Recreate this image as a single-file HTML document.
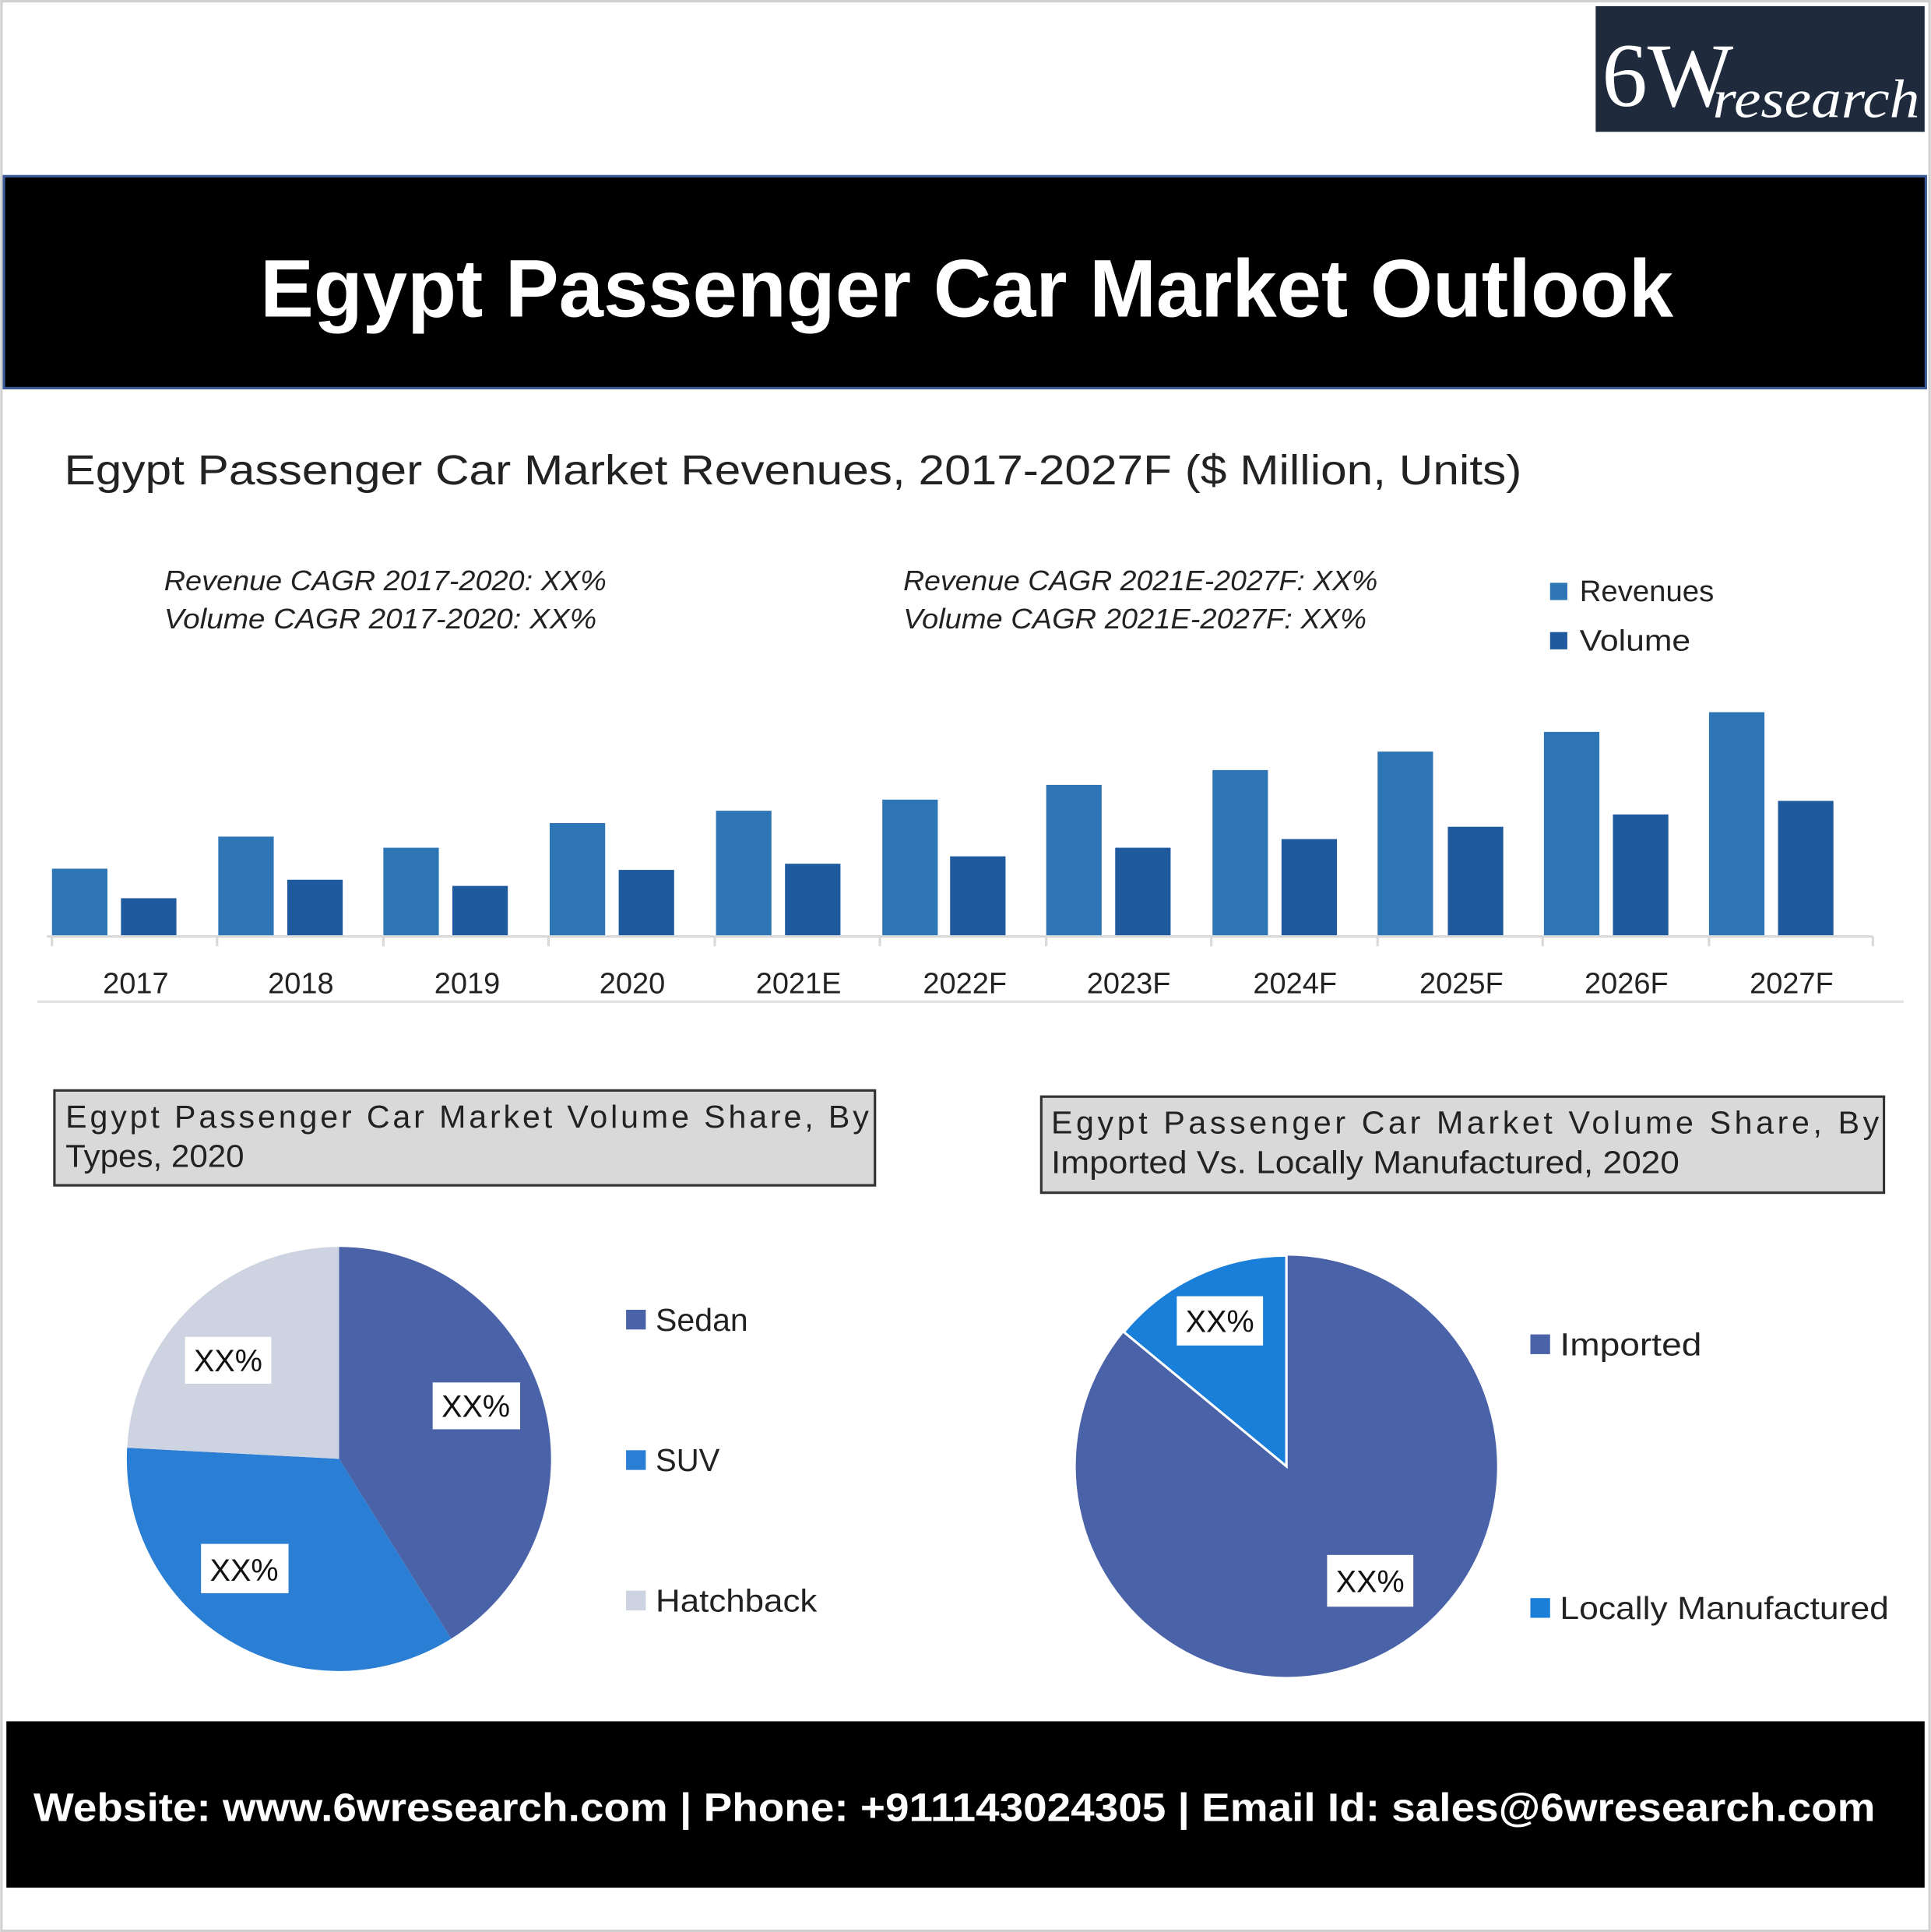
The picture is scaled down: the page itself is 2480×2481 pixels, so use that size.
<!DOCTYPE html>
<html><head><meta charset="utf-8"><style>
html,body{margin:0;padding:0;background:#fff;}
svg{display:block;}
text{font-family:"Liberation Sans",sans-serif;}
</style></head><body>
<svg width="2480" height="2481" viewBox="0 0 1567 1568" xmlns="http://www.w3.org/2000/svg">
<rect x="0" y="0" width="1567" height="1568" fill="#fff"/>
<rect x="1" y="1" width="1565" height="1566" fill="none" stroke="#d0d0d0" stroke-width="2"/>
<!-- logo -->
<rect x="1295" y="5" width="267" height="102" fill="#1f2b3d"/>
<text x="1300" y="86" style="font-family:'Liberation Serif',serif" font-size="74" fill="#fff">6W</text>
<text x="1390" y="95" style="font-family:'Liberation Serif',serif;font-style:italic" font-size="44" fill="#fff" textLength="168" lengthAdjust="spacingAndGlyphs">research</text>
<!-- title band -->
<rect x="3" y="143" width="1560" height="172" fill="#000" stroke="#3a5a9a" stroke-width="2"/>
<text x="211" y="257" font-size="66" font-weight="bold" fill="#fff" textLength="1147" lengthAdjust="spacingAndGlyphs">Egypt Passenger Car Market Outlook</text>
<!-- subtitle -->
<text x="52" y="393" font-size="34" fill="#222" textLength="1183" lengthAdjust="spacingAndGlyphs">Egypt Passenger Car Market Revenues, 2017-2027F ($ Million, Units)</text>
<g font-size="23" font-style="italic" fill="#222">
<text x="133" y="479" textLength="359" lengthAdjust="spacingAndGlyphs">Revenue CAGR 2017-2020: XX%</text>
<text x="133" y="510" textLength="351" lengthAdjust="spacingAndGlyphs">Volume CAGR 2017-2020: XX%</text>
<text x="733" y="479" textLength="385" lengthAdjust="spacingAndGlyphs">Revenue CAGR 2021E-2027F: XX%</text>
<text x="733" y="510" textLength="376" lengthAdjust="spacingAndGlyphs">Volume CAGR 2021E-2027F: XX%</text>
</g>
<rect x="1258" y="473" width="14" height="14" fill="#2e75b6"/>
<text x="1282" y="488" font-size="24" fill="#222" textLength="109" lengthAdjust="spacingAndGlyphs">Revenues</text>
<rect x="1258" y="513" width="14" height="14" fill="#1f5a9e"/>
<text x="1282" y="528" font-size="24" fill="#222" textLength="90" lengthAdjust="spacingAndGlyphs">Volume</text>
<!-- bars -->
<g>
<rect x="42" y="705" width="45" height="55" fill="#2e75b6"/><rect x="98" y="729" width="45" height="31" fill="#1f5a9e"/>
<rect x="177" y="679" width="45" height="81" fill="#2e75b6"/><rect x="233" y="714" width="45" height="46" fill="#1f5a9e"/>
<rect x="311" y="688" width="45" height="72" fill="#2e75b6"/><rect x="367" y="719" width="45" height="41" fill="#1f5a9e"/>
<rect x="446" y="668" width="45" height="92" fill="#2e75b6"/><rect x="502" y="706" width="45" height="54" fill="#1f5a9e"/>
<rect x="581" y="658" width="45" height="102" fill="#2e75b6"/><rect x="637" y="701" width="45" height="59" fill="#1f5a9e"/>
<rect x="716" y="649" width="45" height="111" fill="#2e75b6"/><rect x="771" y="695" width="45" height="65" fill="#1f5a9e"/>
<rect x="849" y="637" width="45" height="123" fill="#2e75b6"/><rect x="905" y="688" width="45" height="72" fill="#1f5a9e"/>
<rect x="984" y="625" width="45" height="135" fill="#2e75b6"/><rect x="1040" y="681" width="45" height="79" fill="#1f5a9e"/>
<rect x="1118" y="610" width="45" height="150" fill="#2e75b6"/><rect x="1175" y="671" width="45" height="89" fill="#1f5a9e"/>
<rect x="1253" y="594" width="45" height="166" fill="#2e75b6"/><rect x="1309" y="661" width="45" height="99" fill="#1f5a9e"/>
<rect x="1387" y="578" width="45" height="182" fill="#2e75b6"/><rect x="1443" y="650" width="45" height="110" fill="#1f5a9e"/>
</g>
<line x1="38" y1="760" x2="1520" y2="760" stroke="#d9d9d9" stroke-width="2"/>
<g stroke="#d9d9d9" stroke-width="2">
<line x1="42" y1="760" x2="42" y2="768"/><line x1="176" y1="760" x2="176" y2="768"/><line x1="311" y1="760" x2="311" y2="768"/><line x1="445" y1="760" x2="445" y2="768"/><line x1="580" y1="760" x2="580" y2="768"/><line x1="714" y1="760" x2="714" y2="768"/><line x1="849" y1="760" x2="849" y2="768"/><line x1="983" y1="760" x2="983" y2="768"/><line x1="1118" y1="760" x2="1118" y2="768"/><line x1="1252" y1="760" x2="1252" y2="768"/><line x1="1387" y1="760" x2="1387" y2="768"/><line x1="1520" y1="760" x2="1520" y2="768"/>
</g>
<g font-size="24" fill="#222" text-anchor="middle">
<text x="110" y="806">2017</text><text x="244" y="806">2018</text><text x="379" y="806">2019</text><text x="513" y="806">2020</text><text x="648" y="806">2021E</text><text x="783" y="806">2022F</text><text x="916" y="806">2023F</text><text x="1051" y="806">2024F</text><text x="1186" y="806">2025F</text><text x="1320" y="806">2026F</text><text x="1454" y="806">2027F</text>
</g>
<line x1="30" y1="813" x2="1545" y2="813" stroke="#e3e3e3" stroke-width="2"/>
<!-- boxes -->
<rect x="44" y="885" width="666" height="77" fill="#d9d9d9" stroke="#333" stroke-width="2"/>
<text x="53" y="915" font-size="26" fill="#222" textLength="652" lengthAdjust="spacing">Egypt Passenger Car Market Volume Share, By</text>
<text x="53" y="947" font-size="26" fill="#222" textLength="145" lengthAdjust="spacingAndGlyphs">Types, 2020</text>
<rect x="845" y="890" width="684" height="78" fill="#d9d9d9" stroke="#333" stroke-width="2"/>
<text x="853" y="920" font-size="26" fill="#222" textLength="672" lengthAdjust="spacing">Egypt Passenger Car Market Volume Share, By</text>
<text x="853" y="952" font-size="26" fill="#222" textLength="510" lengthAdjust="spacingAndGlyphs">Imported Vs. Locally Manufactured, 2020</text>
<!-- pie 1 -->
<path d="M275,1184 L275,1012 A172,172 0 0 1 366,1330 Z" fill="#4a63a8"/>
<path d="M275,1184 L366,1330 A172,172 0 0 1 103,1175 Z" fill="#2a7fd4"/>
<path d="M275,1184 L103,1175 A172,172 0 0 1 275,1012 Z" fill="#cdd3e0"/>
<g font-size="25" fill="#111" text-anchor="middle">
<rect x="150" y="1085" width="70" height="38" fill="#fff"/><text x="185" y="1113">XX%</text>
<rect x="351" y="1122" width="71" height="38" fill="#fff"/><text x="386" y="1150">XX%</text>
<rect x="163" y="1253" width="71" height="40" fill="#fff"/><text x="198" y="1283">XX%</text>
</g>
<rect x="508" y="1063" width="16" height="16" fill="#4a63a8"/><text x="532" y="1080" font-size="26" fill="#222" textLength="75" lengthAdjust="spacingAndGlyphs">Sedan</text>
<rect x="508" y="1177" width="16" height="16" fill="#2a7fd4"/><text x="532" y="1194" font-size="26" fill="#222" textLength="52" lengthAdjust="spacingAndGlyphs">SUV</text>
<rect x="508" y="1291" width="16" height="16" fill="#cdd3e0"/><text x="532" y="1308" font-size="26" fill="#222" textLength="131" lengthAdjust="spacingAndGlyphs">Hatchback</text>
<!-- pie 2 -->
<circle cx="1044" cy="1190" r="171" fill="#4a63a8"/>
<path d="M1044,1190 L912,1081 A171,171 0 0 1 1044,1019 Z" fill="#1a7fd8" stroke="#fff" stroke-width="2"/>
<g font-size="25" fill="#111" text-anchor="middle">
<rect x="955" y="1052" width="70" height="40" fill="#fff"/><text x="990" y="1081">XX%</text>
<rect x="1077" y="1262" width="70" height="42" fill="#fff"/><text x="1112" y="1292">XX%</text>
</g>
<rect x="1242" y="1083" width="16" height="16" fill="#4a63a8"/><text x="1266" y="1100" font-size="26" fill="#222" textLength="115" lengthAdjust="spacingAndGlyphs">Imported</text>
<rect x="1242" y="1297" width="16" height="16" fill="#1a7fd8"/><text x="1266" y="1314" font-size="26" fill="#222" textLength="267" lengthAdjust="spacingAndGlyphs">Locally Manufactured</text>
<!-- footer -->
<rect x="5" y="1397" width="1557" height="135" fill="#000"/>
<text x="27" y="1478" font-size="32" font-weight="bold" fill="#fff" textLength="1495" lengthAdjust="spacingAndGlyphs">Website: www.6wresearch.com | Phone: +911143024305 | Email Id: sales@6wresearch.com</text>
</svg>
</body></html>
